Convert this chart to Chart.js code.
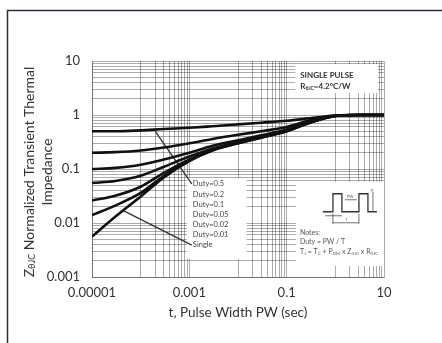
<!DOCTYPE html>
<html>
<head>
<meta charset="utf-8">
<script src="https://cdn.jsdelivr.net/npm/chart.js@4.4.1/dist/chart.umd.min.js"></script>
<style>
  html, body { margin: 0; padding: 0; background: #fff; }
  #wrap { width: 442px; height: 343px; }
</style>
</head>
<body>
<div id="wrap"><canvas id="zthChart" width="442" height="343"></canvas></div>
<script>
// pulse width PW (sec), shared by all curves
const pulseWidth = [1e-5, 3e-5, 1e-4, 3e-4, 1e-3, 3e-3, 1e-2, 3e-2, 0.1, 0.3, 1, 3, 10];

// normalized transient thermal impedance
const duty05  = [0.50, 0.50, 0.52, 0.55, 0.58, 0.62, 0.67, 0.72, 0.78, 0.87, 0.98, 1.0, 1.0];
const duty02  = [0.20, 0.205, 0.22, 0.25, 0.30, 0.36, 0.43, 0.50, 0.60, 0.80, 0.98, 1.0, 1.0];
const duty01  = [0.10, 0.105, 0.12, 0.15, 0.20, 0.27, 0.34, 0.42, 0.54, 0.78, 0.97, 1.0, 1.0];
const duty005 = [0.055, 0.06, 0.075, 0.11, 0.17, 0.24, 0.32, 0.40, 0.52, 0.75, 0.97, 1.0, 1.0];
const duty002 = [0.026, 0.032, 0.047, 0.085, 0.15, 0.23, 0.31, 0.39, 0.51, 0.73, 0.96, 1.0, 1.0];
const duty001 = [0.014, 0.021, 0.036, 0.075, 0.145, 0.225, 0.30, 0.385, 0.50, 0.72, 0.96, 1.0, 1.0];
const single  = [0.0056, 0.013, 0.031, 0.07, 0.14, 0.22, 0.30, 0.38, 0.50, 0.72, 0.96, 1.0, 1.0];

const curveNames = ['Duty=0.5', 'Duty=0.2', 'Duty=0.1', 'Duty=0.05', 'Duty=0.02', 'Duty=0.01', 'Single'];
const curveData = [duty05, duty02, duty01, duty005, duty002, duty001, single];

// leader lines from the legend text to the curves
const dutyPointer   = [[2e-4, 0.5], [1.12e-3, 0.053]];
const singlePointer = [[4.4e-5, 0.017], [1.12e-3, 0.0039]];

const xTickValues = [1e-5, 1e-3, 0.1, 10];
const xTickLabels = ['0.00001', '0.001', '0.1', '10'];
const yTickValues = [0.001, 0.01, 0.1, 1, 10];
const yTickLabels = ['0.001', '0.01', '0.1', '1', '10'];

// grid: x has minor lines only in every other decade, y in all of them
function decadeLines(decades) {
    let out = [];
    decades.forEach(d => { for (let m = 1; m < 10; m++) out.push(m * d); });
    return out;
}
const xGrid = [1e-5, 1e-3, 0.1, 10].concat(decadeLines([1e-4, 1e-2, 1]));
const yGrid = decadeLines([0.001, 0.01, 0.1, 1]).concat([10]);

function labelFor(v, values, labels) {
    for (let i = 0; i < values.length; i++) {
        if (Math.abs(Math.log10(v) - Math.log10(values[i])) < 1e-6) return labels[i];
    }
    return '';
}

const FONT = 'Lato, "Open Sans", sans-serif';
const gridColor = 'rgba(0,0,0,0.33)';

let datasets = curveData.map((arr, i) => ({
    label: curveNames[i],
    data: pulseWidth.map((x, j) => ({ x: x, y: arr[j] })),
    borderColor: '#111',
    borderWidth: 2.6,
    pointRadius: 0,
    cubicInterpolationMode: 'monotone',
    fill: false
}));
[dutyPointer, singlePointer].forEach(p => {
    datasets.push({
        data: p.map(pt => ({ x: pt[0], y: pt[1] })),
        borderColor: '#333',
        borderWidth: 1.3,
        pointRadius: 0,
        fill: false
    });
});

function drawSubText(ctx, parts, x, y, align) {
    // parts: [text, size, dy]
    let total = 0;
    parts.forEach(p => { ctx.font = p[1] + 'px ' + FONT; total += ctx.measureText(p[0]).width; });
    let cx = align === 'center' ? x - total / 2 : x;
    ctx.textAlign = 'left';
    parts.forEach(p => {
        ctx.font = (p[3] ? 'bold ' : '') + p[1] + 'px ' + FONT;
        ctx.fillText(p[0], cx, y + p[2]);
        cx += ctx.measureText(p[0]).width;
    });
}

const boxesPlugin = {
    id: 'boxes',
    beforeDatasetsDraw(chart) {
        const ctx = chart.ctx, xs = chart.scales.x, ys = chart.scales.y;
        const box = (x0, x1, y0, y1) => {
            let l = xs.getPixelForValue(x0), r = xs.getPixelForValue(x1);
            let t = ys.getPixelForValue(y0), b = ys.getPixelForValue(y1);
            ctx.fillStyle = '#fff';
            ctx.fillRect(l, t, r - l, b - t);
        };
        ctx.save();
        box(8.9e-4, 0.015, 0.068, 0.0022);   // legend
        box(0.155, 10, 0.058, 0.0016);       // notes
        box(0.15, 7.5, 8.8, 2.55);           // single pulse
        ctx.restore();
    },
    afterDraw(chart) {
        const ctx = chart.ctx, xs = chart.scales.x, ys = chart.scales.y, area = chart.chartArea;
        ctx.save();
        ctx.textBaseline = 'middle';

        // legend text
        let lx = xs.getPixelForValue(8.9e-4) + 6, ly = ys.getPixelForValue(0.068) + 6;
        ctx.fillStyle = '#444';
        ctx.font = '7.5px ' + FONT;
        ctx.textAlign = 'left';
        curveNames.forEach((n, i) => ctx.fillText(n, lx, ly + i * 10.15));

        // single pulse box text
        let sx = xs.getPixelForValue(0.15) + 5, sy = ys.getPixelForValue(8.8);
        ctx.fillStyle = '#333';
        drawSubText(ctx, [['SINGLE PULSE', 8, 0, true]], sx, sy + 11, 'left');
        drawSubText(ctx, [['R', 8, 0, true], ['θJC', 5, 2, true], ['=4.2°C/W', 8, 0, true]], sx, sy + 22, 'left');

        // notes
        let nx = xs.getPixelForValue(0.155) + 4, ny = ys.getPixelForValue(0.058);
        ctx.fillStyle = '#555';
        drawSubText(ctx, [['Notes:', 7, 0]], nx, ny + 51, 'left');
        drawSubText(ctx, [['Duty = PW / T', 7, 0]], nx, ny + 60, 'left');
        drawSubText(ctx, [['T', 7, 0], ['J', 4.5, 2], [' = T', 7, 0], ['C', 4.5, 2], [' + P', 7, 0], ['DM', 4.5, 2],
            [' x Z', 7, 0], ['θJC', 4.5, 2], [' x R', 7, 0], ['θJC', 4.5, 2]], nx, ny + 70, 'left');

        // pulse waveform sketch
        let wx = nx + 23, base = ny + 30, top = ny + 12;
        ctx.strokeStyle = '#333';
        ctx.lineWidth = 1.3;
        ctx.beginPath();
        ctx.moveTo(wx, base); ctx.lineTo(wx + 10, base); ctx.lineTo(wx + 10, top); ctx.lineTo(wx + 19, top);
        ctx.lineTo(wx + 19, base); ctx.lineTo(wx + 36, base); ctx.lineTo(wx + 36, top); ctx.lineTo(wx + 45, top);
        ctx.lineTo(wx + 45, base); ctx.lineTo(wx + 54, base);
        ctx.stroke();
        ctx.lineWidth = 0.7;
        ctx.beginPath();
        ctx.moveTo(wx + 10, base + 2); ctx.lineTo(wx + 10, base + 12);
        ctx.moveTo(wx + 36, base + 2); ctx.lineTo(wx + 36, base + 12);
        ctx.moveTo(wx + 2, base + 4); ctx.lineTo(wx + 19, base + 4);
        ctx.moveTo(wx + 10, base + 11); ctx.lineTo(wx + 36, base + 11);
        ctx.moveTo(wx + 22, top + 6); ctx.lineTo(wx + 34, top + 6);
        ctx.moveTo(wx + 50, top - 2); ctx.lineTo(wx + 50, base - 1);
        ctx.stroke();
        ctx.fillStyle = '#555';
        ctx.font = '4px ' + FONT;
        ctx.fillText('PW', wx + 24, top + 3);
        ctx.fillText('T', wx + 22, base + 8);
        ctx.fillText('P', wx + 48, top - 3);

        // axis titles
        ctx.fillStyle = '#333';
        ctx.textAlign = 'center';
        ctx.font = '13.5px ' + FONT;
        ctx.fillText('t, Pulse Width PW (sec)', (area.left + area.right) / 2, 313);

        let cy = (area.top + area.bottom) / 2;
        ctx.translate(29, cy + 3);
        ctx.rotate(-Math.PI / 2);
        drawSubText(ctx, [['Z', 14, 0], ['θJC', 9, 3], [' Normalized Transient Thermal', 14, 0]], 0, 0, 'center');
        ctx.textAlign = 'center';
        ctx.font = '14px ' + FONT;
        ctx.fillText('Impedance', 0, 18);
        ctx.restore();

        // page frame
        ctx.save();
        ctx.strokeStyle = '#2a2f3d';
        ctx.lineWidth = 1.5;
        ctx.beginPath();
        ctx.moveTo(7.5, 343); ctx.lineTo(7.5, 10.5); ctx.lineTo(442, 10.5);
        ctx.stroke();
        ctx.restore();
    }
};

const ctx = document.getElementById('zthChart').getContext('2d');
const zthChart = new Chart(ctx, {
    type: 'line',
    data: { datasets: datasets },
    options: {
        responsive: false,
        animation: false,
        events: [],
        layout: { padding: { top: 61, right: 58, left: 0, bottom: 0 } },
        plugins: { legend: { display: false }, tooltip: { enabled: false } },
        scales: {
            x: {
                type: 'logarithmic',
                min: 1e-5,
                max: 10,
                afterBuildTicks: (scale) => { scale.ticks = xGrid.map(v => ({ value: v })); },
                afterFit: (scale) => { scale.height = 66; },
                ticks: {
                    autoSkip: false,
                    maxRotation: 0,
                    padding: 8,
                    color: '#333',
                    font: { family: FONT, size: 13 },
                    callback: (v) => labelFor(v, xTickValues, xTickLabels)
                },
                grid: { color: gridColor, lineWidth: 1, drawTicks: false },
                border: { color: gridColor, width: 1 }
            },
            y: {
                type: 'logarithmic',
                min: 0.001,
                max: 10,
                afterBuildTicks: (scale) => { scale.ticks = yGrid.map(v => ({ value: v })); },
                afterFit: (scale) => { scale.width = 92; },
                ticks: {
                    autoSkip: false,
                    padding: 12,
                    color: '#333',
                    font: { family: FONT, size: 13 },
                    callback: (v) => labelFor(v, yTickValues, yTickLabels)
                },
                grid: { color: gridColor, lineWidth: 1, drawTicks: false },
                border: { color: gridColor, width: 1 }
            }
        }
    },
    plugins: [boxesPlugin]
});
</script>
</body>
</html>
